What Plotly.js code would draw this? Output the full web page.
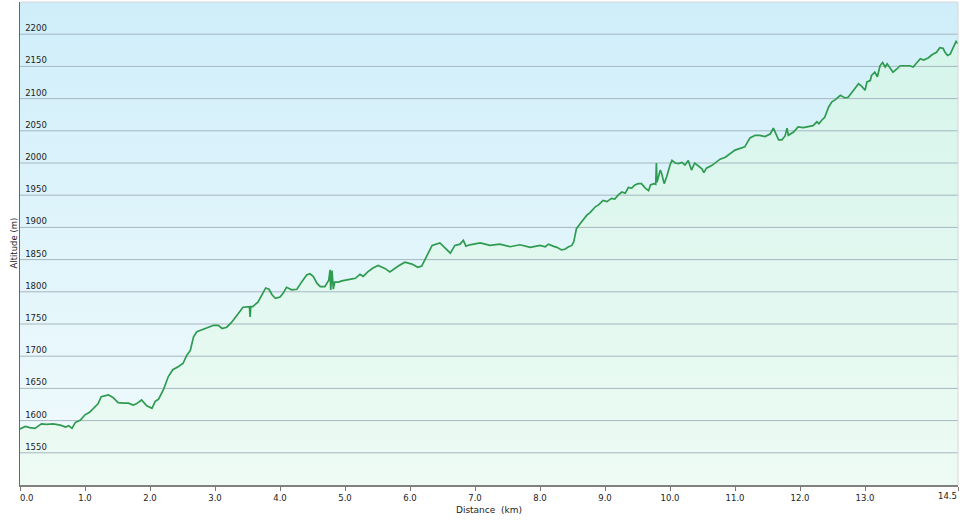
<!DOCTYPE html>
<html><head><meta charset="utf-8">
<script src="https://cdn.plot.ly/plotly-3.0.1.min.js"></script>
<style>html,body{margin:0;padding:0;background:#fff}#chart{width:960px;height:520px}</style>
</head><body><div id="chart"></div>
<script>
const distanceKm = [0.00,0.08,0.15,0.23,0.33,0.41,0.51,0.62,0.70,0.75,0.80,0.85,0.93,1.00,1.07,1.15,1.20,1.25,1.36,1.43,1.51,1.59,1.67,1.74,1.79,1.87,1.95,2.03,2.08,2.13,2.21,2.28,2.35,2.44,2.51,2.54,2.57,2.62,2.67,2.72,2.80,2.90,2.98,3.05,3.11,3.18,3.25,3.35,3.43,3.53,3.54,3.55,3.58,3.66,3.73,3.78,3.83,3.88,3.93,4.00,4.05,4.10,4.18,4.26,4.33,4.41,4.46,4.51,4.57,4.62,4.69,4.75,4.77,4.78,4.80,4.82,4.84,4.90,4.95,5.03,5.11,5.16,5.23,5.28,5.35,5.43,5.51,5.62,5.69,5.82,5.92,6.03,6.12,6.18,6.28,6.34,6.46,6.54,6.62,6.69,6.77,6.82,6.86,6.92,7.08,7.23,7.38,7.54,7.69,7.85,8.00,8.08,8.13,8.20,8.26,8.33,8.38,8.44,8.49,8.52,8.56,8.62,8.67,8.72,8.77,8.80,8.85,8.90,8.95,8.97,9.03,9.10,9.15,9.20,9.26,9.31,9.36,9.41,9.46,9.51,9.56,9.62,9.67,9.70,9.75,9.78,9.79,9.80,9.85,9.87,9.91,9.95,10.00,10.03,10.08,10.13,10.18,10.23,10.28,10.33,10.38,10.44,10.49,10.52,10.56,10.64,10.72,10.77,10.85,11.00,11.15,11.23,11.31,11.38,11.46,11.54,11.59,11.63,11.67,11.72,11.77,11.80,11.82,11.90,11.97,12.05,12.15,12.20,12.26,12.29,12.33,12.38,12.44,12.49,12.54,12.62,12.69,12.74,12.80,12.85,12.90,12.95,13.00,13.03,13.08,13.10,13.15,13.19,13.23,13.27,13.31,13.34,13.38,13.43,13.49,13.54,13.62,13.69,13.74,13.80,13.85,13.90,13.97,14.03,14.10,14.15,14.20,14.23,14.27,14.31,14.36,14.40,14.43];
const altitudeM = [1587,1591,1589,1588,1595,1594,1595,1593,1590,1592,1588,1597,1601,1609,1613,1621,1626,1637,1640,1636,1628,1627,1627,1624,1626,1632,1623,1619,1630,1633,1649,1668,1679,1684,1689,1696,1702,1709,1730,1738,1741,1745,1748,1748,1743,1745,1752,1765,1776,1777,1761,1777,1777,1784,1797,1806,1804,1795,1790,1792,1798,1807,1803,1804,1815,1826,1828,1824,1813,1808,1808,1818,1834,1803,1833,1804,1815,1815,1817,1818,1820,1821,1827,1824,1831,1837,1841,1836,1831,1840,1846,1843,1838,1840,1860,1872,1876,1868,1860,1872,1874,1880,1871,1873,1876,1872,1874,1870,1873,1869,1872,1870,1874,1871,1869,1865,1866,1870,1872,1878,1898,1906,1912,1919,1923,1927,1932,1935,1940,1942,1940,1945,1944,1950,1955,1953,1962,1961,1966,1968,1968,1961,1957,1966,1968,1967,2000,1970,1989,1984,1968,1979,1997,2004,2000,1999,2001,1997,2004,1989,2000,1995,1991,1985,1992,1996,2003,2006,2009,2020,2025,2039,2043,2043,2041,2045,2054,2046,2036,2036,2042,2054,2043,2048,2056,2055,2057,2058,2064,2061,2066,2071,2087,2095,2098,2105,2101,2102,2110,2117,2123,2119,2113,2126,2128,2136,2141,2134,2151,2156,2149,2154,2149,2141,2146,2151,2151,2151,2149,2156,2162,2160,2163,2168,2172,2179,2178,2172,2167,2169,2181,2189,2185];
const yTickVals = [1550,1600,1650,1700,1750,1800,1850,1900,1950,2000,2050,2100,2150,2200];
const xTickVals = [0,1,2,3,4,5,6,7,8,9,10,11,12,13,14.43];
const xTickText = ['&nbsp;&nbsp;&nbsp;&nbsp;&nbsp;0.0','1.0','2.0','3.0','4.0','5.0','6.0','7.0','8.0','9.0','10.0','11.0','12.0','13.0',''];
const endLabel = '14.5';
const xEnd = 14.43, yMin = 1500, yMax = 2250;

const gx = [], gy = [];
yTickVals.forEach(v => { gx.push(0, xEnd, null); gy.push(v, v, null); });

const font = 'DejaVu Sans, Verdana, sans-serif';
const traces = [
  {x:[0, xEnd], y:[yMax, yMax], mode:'lines', line:{width:0, color:'rgba(0,0,0,0)'}, fill:'tozeroy',
   fillgradient:{type:'vertical', start:yMin, stop:yMax, colorscale:[[0,'#f2fbfc'],[1,'#cfeefa']]}, hoverinfo:'skip'},
  {x:distanceKm, y:altitudeM, mode:'lines', line:{width:0, color:'rgba(0,0,0,0)'}, fill:'tozeroy',
   fillgradient:{type:'vertical', start:yMin, stop:yMax, colorscale:[[0,'#edfbf4'],[1,'#d3f4ea']]}, hoverinfo:'skip'},
  {x:gx, y:gy, mode:'lines', line:{color:'#a6b7bf', width:1}, connectgaps:false, hoverinfo:'skip'},
  {x:distanceKm, y:altitudeM, mode:'lines', line:{color:'#2e9b50', width:1.7}}
];
const layout = {
  width:960, height:520, showlegend:false,
  margin:{l:20, r:2, t:2, b:35},
  paper_bgcolor:'#ffffff', plot_bgcolor:'#ffffff',
  font:{family:font, color:'#222'},
  xaxis:{range:[0, xEnd], tickvals:xTickVals, ticktext:xTickText, ticks:'outside', ticklen:4, tickcolor:'#777',
    ticklabeloverflow:'allow',
    showline:true, linecolor:'#808080', linewidth:2, showgrid:false, zeroline:false,
    tickfont:{family:font, size:8.5, color:'#222'},
    title:{text:'Distance&nbsp; (km)', font:{family:font, size:9, color:'#222'}, standoff:4}},
  yaxis:{range:[yMin, yMax], tickvals:yTickVals, ticklabelposition:'outside top', ticks:'', ticklabelstandoff:-30,
    ticklabeloverflow:'allow',
    showline:true, linecolor:'#666', linewidth:1.5, showgrid:false, zeroline:false,
    tickfont:{family:font, size:8.5, color:'#222'}},
  annotations:[
    {text:'Altitude (m)', xref:'paper', yref:'paper', x:0, y:0.5, xshift:-7, xanchor:'center', yanchor:'middle',
     textangle:-90, showarrow:false, font:{family:font, size:8.5, color:'#222'}},
    {text:endLabel, xref:'x', yref:'paper', x:xEnd, y:0, yshift:-5, xanchor:'right', yanchor:'top',
     showarrow:false, borderpad:0, font:{family:font, size:8.5, color:'#222'}}
  ],
  shapes:[
    {type:'line', xref:'paper', yref:'paper', x0:0, x1:1, y0:1, y1:1, line:{color:'#d6d6d6', width:1}},
    {type:'line', xref:'paper', yref:'paper', x0:1, x1:1, y0:0, y1:1, line:{color:'#d6d6d6', width:1}}
  ]
};
Plotly.newPlot('chart', traces, layout, {displayModeBar:false, staticPlot:true});
</script></body></html>
